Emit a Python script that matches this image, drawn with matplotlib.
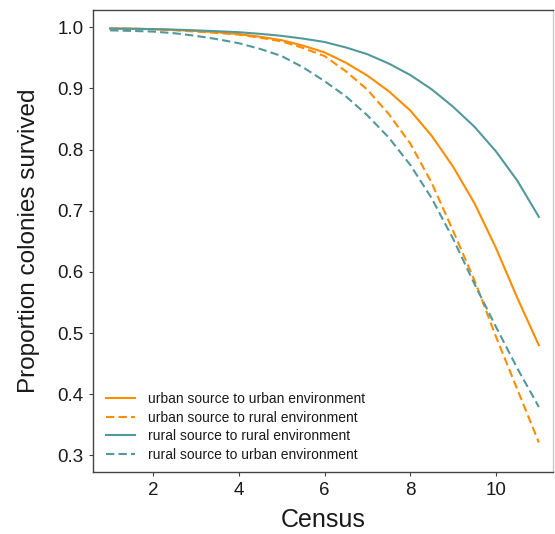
import numpy as np
import matplotlib
matplotlib.use("Agg")
import matplotlib.pyplot as plt

plt.rcParams['font.family'] = ['Liberation Sans', 'DejaVu Sans']

# census points (read every half census)
census = [1, 1.5, 2, 2.5, 3, 3.5, 4, 4.5, 5, 5.5, 6,
          6.5, 7, 7.5, 8, 8.5, 9, 9.5, 10, 10.5, 11]

urban_urban = [0.998, 0.9976, 0.997, 0.9957, 0.994, 0.9918, 0.989, 0.9845, 0.979, 0.970, 0.959,
               0.942, 0.921, 0.8954, 0.864, 0.8226, 0.772, 0.712, 0.639, 0.557, 0.480]
urban_rural = [0.998, 0.9976, 0.997, 0.9952, 0.993, 0.9908, 0.988, 0.983, 0.977, 0.9662, 0.953,
               0.928, 0.898, 0.858, 0.810, 0.7457, 0.667, 0.586, 0.494, 0.4075, 0.321]
rural_rural = [0.998, 0.9977, 0.997, 0.9962, 0.995, 0.9936, 0.992, 0.9893, 0.986, 0.9815, 0.976,
               0.967, 0.956, 0.9407, 0.922, 0.8986, 0.870, 0.8372, 0.797, 0.7489, 0.690]
rural_urban = [0.995, 0.9941, 0.993, 0.9903, 0.986, 0.9806, 0.974, 0.9646, 0.953, 0.9345, 0.912,
               0.887, 0.856, 0.8196, 0.775, 0.7205, 0.654, 0.580, 0.510, 0.442, 0.379]

labels = ['urban source to urban environment',
          'urban source to rural environment',
          'rural source to rural environment',
          'rural source to urban environment']

orange = '#ff8c00'
teal = '#52999b'
dash = (0, (4, 2))

fig = plt.figure(figsize=(5.55, 5.34), dpi=100)
ax = fig.add_axes([93 / 555, 62 / 534, 460 / 555, 462 / 534])

ax.plot(census, urban_urban, color=orange, lw=1.5, label=labels[0])
ax.plot(census, urban_rural, color=orange, lw=1.5, ls=dash, label=labels[1])
ax.plot(census, rural_rural, color=teal, lw=1.5, label=labels[2])
ax.plot(census, rural_urban, color=teal, lw=1.5, ls=dash, label=labels[3])

ax.set_xlim(0.6, 11.33)
ax.set_ylim(0.2727, 1.0283)
ax.set_xticks([2, 4, 6, 8, 10])
ax.set_yticks([0.3, 0.4, 0.5, 0.6, 0.7, 0.8, 0.9, 1.0])
ax.set_yticklabels(['0.3', '0.4', '0.5', '0.6', '0.7', '0.8', '0.9', '1.0'])

for s in ['left', 'bottom', 'top']:
    ax.spines[s].set_color('#444444')
    ax.spines[s].set_linewidth(1.0)
ax.spines['right'].set_color('#cccccc')
ax.spines['right'].set_linewidth(1.0)

ax.tick_params(axis='both', direction='out', length=3, width=0.8, color='#444444',
               labelsize=13.5, labelcolor='#1a1a1a', pad=4)

ax.set_xlabel('Census', fontsize=18, color='#1a1a1a', labelpad=7)
ax.set_ylabel('Proportion colonies survived', fontsize=17.5, color='#1a1a1a', labelpad=12)

leg = ax.legend(loc='lower left', bbox_to_anchor=(0.028, 0.022), frameon=False,
                fontsize=10, handlelength=2.1, handletextpad=0.95, labelspacing=0.33,
                borderpad=0, borderaxespad=0)
for t in leg.get_texts():
    t.set_color('#1a1a1a')

fig.savefig('out.png', dpi=100)
